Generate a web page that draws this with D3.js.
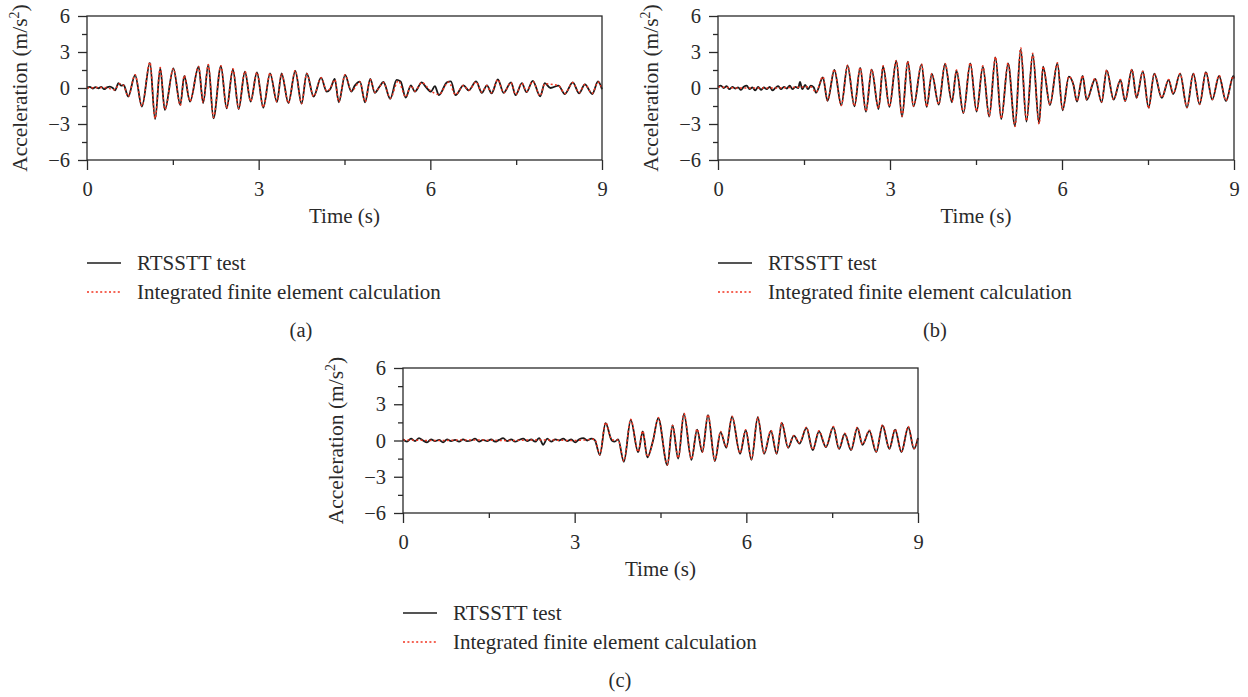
<!DOCTYPE html>
<html><head><meta charset="utf-8">
<script src="https://cdn.jsdelivr.net/npm/d3@7"></script>
<style>body{margin:0;background:#fff}</style>
</head><body><svg id="chart" width="1248" height="697"></svg>
<script>
const xTicks = [0, 3, 6, 9];
const xMinor = [1.5, 4.5, 7.5];
const yTicks = [-6, -3, 0, 3, 6];
const yMinor = [-4.5, -1.5, 1.5, 4.5];
const legendLabels = ["RTSSTT test", "Integrated finite element calculation"];
const xTitle = "Time (s)";
const captions = ["(a)", "(b)", "(c)"];

// Panel (a): [time s, acceleration m/s^2]
const aTest = [[0,0.05],[0.05,0.1],[0.1,-0.05],[0.15,0.08],[0.2,-0.02],[0.25,0.1],[0.3,-0.1],[0.35,0.05],[0.4,0.12],[0.45,0.0],[0.49,-0.2],[0.55,0.4],[0.6,0.2],[0.64,0.25],[0.72,-0.72],[0.84,1.08],[0.96,-1.55],[1.10,2.1],[1.19,-2.6],[1.28,1.64],[1.36,-1.83],[1.51,1.64],[1.63,-1.42],[1.70,1.0],[1.80,-1.14],[1.95,1.78],[2.03,-1.25],[2.12,1.92],[2.21,-2.53],[2.34,1.83],[2.44,-1.7],[2.55,1.56],[2.65,-1.75],[2.76,1.36],[2.86,-1.14],[2.97,1.31],[3.08,-1.64],[3.20,1.22],[3.32,-1.17],[3.40,1.22],[3.52,-1.25],[3.64,1.42],[3.75,-1.3],[3.84,1.22],[3.96,-0.72],[4.09,0.86],[4.19,-0.3],[4.25,-0.1],[4.33,0.75],[4.40,-1.2],[4.51,1.1],[4.62,-0.3],[4.68,0.2],[4.77,0.53],[4.86,-1.2],[4.95,0.75],[5.03,-0.4],[5.11,0.1],[5.18,0.5],[5.30,-0.9],[5.41,0.67],[5.48,0.55],[5.57,-0.8],[5.66,0.22],[5.73,-0.3],[5.85,0.47],[5.92,0.1],[6.01,-0.3],[6.08,0.15],[6.15,-0.6],[6.29,0.47],[6.36,0.55],[6.44,-0.6],[6.58,0.22],[6.67,-0.2],[6.80,0.55],[6.90,-0.4],[6.99,0.22],[7.07,-0.45],[7.18,0.72],[7.28,-0.4],[7.41,0.47],[7.49,-0.6],[7.60,0.4],[7.68,-0.35],[7.79,0.6],[7.92,-0.7],[8.00,0.4],[8.10,0.0],[8.24,0.2],[8.35,-0.5],[8.49,0.47],[8.60,-0.45],[8.70,0.3],[8.83,-0.5],[8.93,0.55],[9.0,-0.1]];
const aCalc = [[0,0.0],[0.3,0.05],[0.49,-0.15],[0.56,0.35],[0.64,0.2],[0.72,-0.7],[0.84,1.1],[0.96,-1.5],[1.10,2.15],[1.19,-2.55],[1.28,1.7],[1.36,-1.8],[1.51,1.6],[1.63,-1.45],[1.70,1.05],[1.80,-1.1],[1.95,1.8],[2.03,-1.2],[2.12,1.95],[2.21,-2.45],[2.34,1.85],[2.44,-1.7],[2.55,1.6],[2.65,-1.7],[2.76,1.4],[2.86,-1.1],[2.97,1.3],[3.08,-1.6],[3.20,1.25],[3.32,-1.15],[3.40,1.2],[3.52,-1.25],[3.64,1.45],[3.75,-1.3],[3.84,1.2],[3.96,-0.7],[4.09,0.85],[4.19,-0.25],[4.25,-0.05],[4.33,0.7],[4.40,-1.15],[4.51,1.1],[4.62,-0.25],[4.77,0.5],[4.86,-1.15],[4.95,0.7],[5.03,-0.35],[5.18,0.45],[5.30,-0.85],[5.44,0.6],[5.57,-0.75],[5.66,0.2],[5.73,-0.25],[5.85,0.45],[6.01,-0.25],[6.15,-0.55],[6.32,0.5],[6.44,-0.55],[6.58,0.2],[6.67,-0.2],[6.80,0.5],[6.90,-0.35],[6.99,0.2],[7.07,-0.4],[7.18,0.7],[7.28,-0.4],[7.41,0.45],[7.49,-0.55],[7.60,0.4],[7.68,-0.3],[7.79,0.55],[7.92,-0.65],[8.00,0.35],[8.24,0.2],[8.35,-0.45],[8.49,0.45],[8.60,-0.4],[8.70,0.3],[8.83,-0.45],[8.93,0.5],[9.0,-0.05]];

// Panel (b)
const bTest = [[0,0.1],[0.05,0.2],[0.1,0.0],[0.15,0.15],[0.2,-0.1],[0.25,0.1],[0.3,-0.05],[0.35,0.05],[0.4,-0.15],[0.45,0.1],[0.5,0.2],[0.55,-0.1],[0.6,0.05],[0.65,-0.2],[0.7,0.1],[0.75,-0.15],[0.8,0.05],[0.85,-0.1],[0.9,0.1],[0.95,-0.2],[1.0,0.0],[1.05,0.15],[1.1,-0.1],[1.15,0.1],[1.2,-0.05],[1.25,0.2],[1.3,-0.1],[1.35,0.1],[1.4,0.0],[1.43,0.5],[1.47,-0.1],[1.52,0.25],[1.57,-0.1],[1.62,0.2],[1.67,0.05],[1.71,-0.4],[1.83,0.89],[1.91,-1.08],[2.03,1.5],[2.15,-1.44],[2.26,1.86],[2.38,-1.53],[2.48,1.67],[2.58,-1.97],[2.68,1.53],[2.80,-1.75],[2.88,1.8],[2.99,-1.58],[3.11,2.25],[3.21,-2.39],[3.31,2.2],[3.41,-1.53],[3.55,1.94],[3.64,-1.58],[3.73,1.17],[3.85,-1.39],[3.96,2.0],[4.08,-1.19],[4.16,1.44],[4.28,-2.1],[4.40,2.06],[4.51,-1.97],[4.62,1.78],[4.73,-2.39],[4.84,2.55],[4.94,-2.6],[5.06,2.06],[5.18,-3.17],[5.28,3.22],[5.38,-2.8],[5.49,2.8],[5.60,-2.94],[5.67,1.78],[5.79,-1.42],[5.92,2.06],[6.01,-1.86],[6.12,0.94],[6.20,0.25],[6.26,-1.14],[6.36,1.0],[6.43,-1.0],[6.58,0.75],[6.69,-1.19],[6.78,1.47],[6.90,-0.97],[7.02,0.67],[7.10,-1.1],[7.22,1.53],[7.30,-0.83],[7.41,1.39],[7.51,-1.64],[7.61,1.19],[7.74,-0.83],[7.86,0.67],[7.94,-0.5],[8.06,1.19],[8.18,-1.64],[8.29,1.19],[8.40,-1.36],[8.51,1.33],[8.62,-0.97],[8.74,1.0],[8.86,-1.1],[8.99,1.0],[9.0,0.8]];
const bCalc = [[0,0.1],[0.4,0.0],[0.9,0.0],[1.3,0.05],[1.62,0.1],[1.71,-0.35],[1.83,0.95],[1.91,-1.05],[2.03,1.55],[2.15,-1.45],[2.26,1.9],[2.38,-1.5],[2.48,1.7],[2.58,-1.95],[2.68,1.55],[2.80,-1.7],[2.88,1.85],[2.99,-1.55],[3.11,2.3],[3.21,-2.35],[3.31,2.25],[3.41,-1.5],[3.55,2.0],[3.64,-1.55],[3.73,1.2],[3.85,-1.35],[3.96,2.05],[4.08,-1.15],[4.16,1.5],[4.28,-2.05],[4.40,2.1],[4.51,-1.95],[4.62,1.85],[4.73,-2.35],[4.84,2.6],[4.94,-2.55],[5.06,2.1],[5.18,-3.2],[5.28,3.35],[5.38,-2.75],[5.49,2.9],[5.60,-3.0],[5.67,1.8],[5.79,-1.4],[5.92,2.1],[6.01,-1.8],[6.12,0.95],[6.20,0.3],[6.26,-1.1],[6.36,1.05],[6.43,-0.95],[6.58,0.8],[6.69,-1.15],[6.78,1.5],[6.90,-0.95],[7.02,0.7],[7.10,-1.05],[7.22,1.55],[7.30,-0.8],[7.41,1.4],[7.51,-1.7],[7.61,1.2],[7.74,-0.8],[7.86,0.7],[7.94,-0.45],[8.06,1.2],[8.18,-1.6],[8.29,1.2],[8.40,-1.35],[8.51,1.35],[8.62,-0.95],[8.74,1.05],[8.86,-1.05],[8.99,1.0],[9.0,0.8]];

// Panel (c)
const cTest = [[0,0.1],[0.07,-0.1],[0.14,0.15],[0.21,-0.05],[0.28,0.2],[0.35,0.0],[0.42,-0.15],[0.49,0.1],[0.56,-0.05],[0.63,0.05],[0.7,-0.15],[0.77,0.1],[0.84,-0.05],[0.91,0.05],[0.98,-0.1],[1.05,0.1],[1.12,-0.05],[1.19,0.0],[1.26,0.15],[1.33,-0.1],[1.4,0.05],[1.47,-0.05],[1.54,0.1],[1.61,-0.1],[1.68,0.05],[1.75,0.2],[1.82,-0.05],[1.89,0.1],[1.96,-0.1],[2.03,0.05],[2.10,0.15],[2.17,-0.05],[2.24,0.1],[2.31,-0.1],[2.38,0.2],[2.45,-0.35],[2.52,0.15],[2.59,-0.1],[2.66,0.1],[2.73,0.0],[2.80,0.15],[2.87,-0.05],[2.94,0.1],[3.01,-0.15],[3.08,0.1],[3.15,0.2],[3.22,0.0],[3.29,0.15],[3.35,0.05],[3.44,-1.2],[3.54,1.43],[3.65,0.0],[3.70,-0.1],[3.76,0.1],[3.86,-1.76],[3.98,1.7],[4.11,-0.97],[4.19,0.75],[4.27,-1.4],[4.37,0.0],[4.46,1.85],[4.62,-2.04],[4.71,1.24],[4.81,-1.5],[4.91,2.2],[5.04,-1.6],[5.14,0.9],[5.23,-0.97],[5.33,2.1],[5.45,-1.7],[5.55,0.7],[5.65,-0.6],[5.75,1.97],[5.89,-1.1],[5.99,0.85],[6.09,-1.6],[6.20,1.93],[6.31,-1.1],[6.43,0.8],[6.53,-1.1],[6.62,1.45],[6.73,-0.6],[6.83,0.4],[6.93,-0.25],[7.05,1.05],[7.16,-0.8],[7.27,0.75],[7.39,-0.55],[7.52,1.1],[7.62,-0.7],[7.72,0.55],[7.83,-0.8],[7.94,1.05],[8.03,-0.36],[8.15,0.8],[8.27,-0.97],[8.38,1.24],[8.50,-0.7],[8.60,0.9],[8.71,-0.97],[8.83,1.1],[8.93,-0.7],[9.0,0.2]];
const cCalc = [[0,0.05],[0.6,0.0],[1.2,0.05],[1.8,0.0],[2.4,0.05],[3.0,0.0],[3.35,0.1],[3.44,-1.15],[3.54,1.5],[3.65,0.05],[3.76,0.05],[3.86,-1.7],[3.98,1.75],[4.11,-0.95],[4.19,0.8],[4.27,-1.35],[4.37,0.0],[4.46,1.9],[4.62,-2.0],[4.71,1.25],[4.81,-1.45],[4.91,2.25],[5.04,-1.55],[5.14,0.95],[5.23,-0.95],[5.33,2.15],[5.45,-1.65],[5.55,0.75],[5.65,-0.55],[5.75,2.0],[5.89,-1.05],[5.99,0.9],[6.09,-1.55],[6.20,1.95],[6.31,-1.05],[6.43,0.85],[6.53,-1.05],[6.62,1.5],[6.73,-0.55],[6.83,0.4],[6.93,-0.2],[7.05,1.1],[7.16,-0.75],[7.27,0.8],[7.39,-0.5],[7.52,1.15],[7.62,-0.65],[7.72,0.6],[7.83,-0.75],[7.94,1.1],[8.03,-0.3],[8.15,0.85],[8.27,-0.9],[8.38,1.3],[8.50,-0.65],[8.60,0.95],[8.71,-0.9],[8.83,1.15],[8.93,-0.65],[9.0,0.25]];

const svg = d3.select('#chart');
const font = '"Liberation Serif","Times New Roman","DejaVu Serif",serif';
const ink = '#2a2a2a';

const layouts = [
  {left: 87, top: 16, w: 515, h: 144, legX: 87, legY: 263, capX: 301, capY: 337},
  {left: 718, top: 16, w: 516, h: 144, legX: 718, legY: 263, capX: 935, capY: 337},
  {left: 403, top: 368, w: 515, h: 145, legX: 403, legY: 613, capX: 620, capY: 687}
];
const series = [[aTest, aCalc], [bTest, bCalc], [cTest, cCalc]];

layouts.forEach((L, i) => {
  const x = d3.scaleLinear().domain([0, 9]).range([L.left, L.left + L.w]);
  const y = d3.scaleLinear().domain([-6, 6]).range([L.top + L.h, L.top]);
  const g = svg.append('g');
  const line = d3.line().x(d => x(d[0])).y(d => y(d[1])).curve(d3.curveMonotoneX);

  g.append('path').datum(series[i][0]).attr('d', line)
    .attr('fill', 'none').attr('stroke', '#1a1a1a').attr('stroke-width', 1.8).attr('stroke-linejoin', 'round');
  g.append('path').datum(series[i][1]).attr('d', line)
    .attr('fill', 'none').attr('stroke', '#f2331f').attr('stroke-width', 1.5).attr('stroke-dasharray', '2,2.4');

  // frame
  g.append('rect').attr('x', L.left).attr('y', L.top).attr('width', L.w).attr('height', L.h)
    .attr('fill', 'none').attr('stroke', ink).attr('stroke-width', 1.3);

  const styleAxis = sel => {
    sel.select('.domain').remove();
    sel.selectAll('line').attr('stroke', ink).attr('stroke-width', 1.3);
    sel.selectAll('text').attr('font-family', font).attr('font-size', 20.5).attr('fill', ink);
  };

  g.append('g').attr('transform', `translate(0,${L.top + L.h})`)
    .call(d3.axisBottom(x).tickValues(xTicks).tickSize(10).tickPadding(11).tickFormat(d3.format('d')))
    .call(styleAxis);
  g.append('g').attr('transform', `translate(0,${L.top + L.h})`)
    .call(d3.axisBottom(x).tickValues(xMinor).tickSize(5).tickFormat(''))
    .call(styleAxis);
  g.append('g').attr('transform', `translate(${L.left},0)`)
    .call(d3.axisLeft(y).tickValues(yTicks).tickSize(9).tickPadding(8).tickFormat(d3.format('d')))
    .call(styleAxis);
  g.append('g').attr('transform', `translate(${L.left},0)`)
    .call(d3.axisLeft(y).tickValues(yMinor).tickSize(5).tickFormat(''))
    .call(styleAxis);

  // x title
  g.append('text').attr('x', L.left + L.w / 2).attr('y', L.top + L.h + 63)
    .attr('text-anchor', 'middle').attr('font-family', font).attr('font-size', 21).attr('fill', ink)
    .text(xTitle);

  // y title
  const yt = g.append('text')
    .attr('transform', `translate(${L.left - 60},${L.top + L.h / 2}) rotate(-90)`)
    .attr('text-anchor', 'middle').attr('font-family', font).attr('font-size', 21.5).attr('fill', ink);
  yt.append('tspan').text('Acceleration (m/s');
  yt.append('tspan').attr('dy', -8).attr('font-size', 14).text('2');
  yt.append('tspan').attr('dy', 8).text(')');

  // legend
  g.append('line').attr('x1', L.legX).attr('x2', L.legX + 34).attr('y1', L.legY).attr('y2', L.legY)
    .attr('stroke', '#1c1c1c').attr('stroke-width', 1.4);
  g.append('line').attr('x1', L.legX).attr('x2', L.legX + 34).attr('y1', L.legY + 29).attr('y2', L.legY + 29)
    .attr('stroke', '#f2331f').attr('stroke-width', 1.3).attr('stroke-dasharray', '2,2.4');
  legendLabels.forEach((lab, k) => {
    g.append('text').attr('x', L.legX + 50).attr('y', L.legY + 7 + k * 29)
      .attr('font-family', font).attr('font-size', 21).attr('fill', ink).text(lab);
  });

  g.append('text').attr('x', L.capX).attr('y', L.capY).attr('text-anchor', 'middle')
    .attr('font-family', font).attr('font-size', 20.5).attr('fill', ink).text(captions[i]);
});
</script>
</body></html>
